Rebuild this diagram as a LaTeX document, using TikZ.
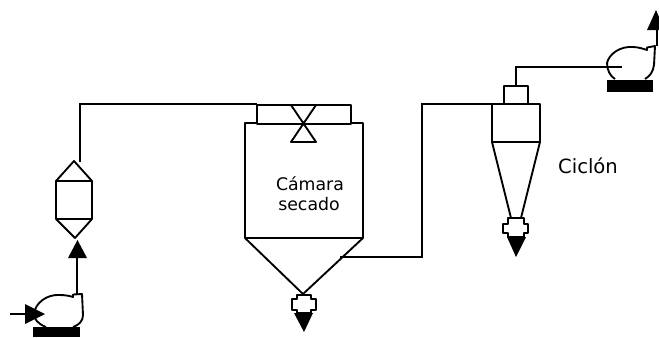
\documentclass[tikz,border=0pt]{standalone}
\usepackage{fontspec}
\setmainfont{DejaVu Sans}
\tikzset{
  pipe/.style={line width=1.5pt,line join=miter},
  outl/.style={line width=1.4pt,line join=round},
  solid tri/.style={fill=black,draw=none},
  lbl/.style={anchor=base,inner sep=0pt}
}
\begin{document}
\begin{tikzpicture}[x=0.75pt,y=-0.75pt]
\useasboundingbox (0,0) rectangle (659,337);
% named points
\coordinate (filterTop) at (80,162);
\coordinate (feedCorner) at (80,104);
\coordinate (boxEntry) at (257,104);
\coordinate (coneOut) at (340,257);
\coordinate (riserBot) at (422,257);
\coordinate (riserTop) at (422,104);
\coordinate (cycEntry) at (515,104);
\coordinate (cycOut) at (516,86);
\coordinate (cycOutCorner) at (516,67);
\coordinate (fanIn) at (622,67);
\coordinate (pumpOut) at (77,295);
\coordinate (filterArrow) at (77,250);
\coordinate (airIn) at (10,314);
\coordinate (airTip) at (30,314);
\coordinate (fanOut) at (657,46);
\coordinate (fanTip) at (657,25);
% left pump
\draw[outl] (46,327) .. controls (38,324) and (34,319) .. (34,314)
  .. controls (35,303) and (47,294) .. (60,295)
  .. controls (65,295) and (70,296) .. (73,297) -- (73,294.5) -- (82,294) -- (83,315)
  .. controls (83,321) and (79,325) .. (73,327);
\fill (33,327) rectangle (80,337);
\draw[pipe] (airIn) -- (airTip);
\fill[solid tri] (25,304) -- (45,314) -- (25,324) -- cycle;
\draw[pipe] (pumpOut) -- (filterArrow);
\fill[solid tri] (68,258) -- (77.5,240) -- (87,258) -- cycle;
% filter
\draw[outl] (56,181) rectangle (92,219);
\draw[outl] (56,181) -- (74,161) -- (92,181);
\draw[outl] (56,219) -- (75,238) -- (92,219);
\draw[pipe] (filterTop) -- (feedCorner) -- (boxEntry);
% chamber
\draw[outl] (257,123) -| (245,238) -- (363,238) |- (351,123);
\draw[outl] (245,238) -- (303,294) -- (363,238);
\draw[outl] (257,105) rectangle (351,124);
\draw[outl] (291,105) -- (316,105) -- (291,142) -- (316,142) -- cycle;
\node[lbl,font=\fontsize{13pt}{15pt}\selectfont] (camara) at (310,190) {Cámara};
\node[lbl,font=\fontsize{13pt}{15pt}\selectfont] (secado) at (309,210) {secado};
% chamber discharge
\draw[outl] (297,295) -- (311,295) -- (311,299) -- (316,299) -- (316,310) -- (311,310) -- (311,313)
  -- (297,313) -- (297,310) -- (292,310) -- (292,299) -- (297,299) -- cycle;
\fill[solid tri] (294,313) -- (313,313) -- (304,332) -- cycle;
% riser
\draw[pipe] (coneOut) -- (riserBot) -- (riserTop) -- (cycEntry);
% cyclone
\draw[outl] (492,104) rectangle (540,142);
\draw[outl] (504,86) rectangle (528,104);
\draw[outl] (492,142) -- (511,218);
\draw[outl] (540,142) -- (521,218);
\draw[pipe] (cycOut) -- (cycOutCorner) -- (fanIn);
\node[lbl,font=\fontsize{14.7pt}{17pt}\selectfont] (ciclon) at (588,173) {Ciclón};
% cyclone discharge
\draw[outl] (508,218) -- (524,218) -- (524,224) -- (528,224) -- (528,233) -- (524,233) -- (524,237)
  -- (508,237) -- (508,233) -- (503,233) -- (503,224) -- (508,224) -- cycle;
\fill[solid tri] (507,237) -- (526,237) -- (516,257) -- cycle;
% top-right fan
\draw[outl] (615,79) .. controls (610,76) and (607,70) .. (607,63)
  .. controls (609,54) and (620,46) .. (633,47)
  .. controls (638,47) and (644,49) .. (647,50) -- (647,47.5) -- (655,46) -- (654,65)
  .. controls (653,72) and (650,76) .. (645,79);
\fill (607,80) rectangle (653,92);
\draw[pipe] (fanOut) -- (fanTip);
\fill[solid tri] (647,30) -- (656,10) -- (659,17) -- (659,30) -- cycle;
\end{tikzpicture}
\end{document}
